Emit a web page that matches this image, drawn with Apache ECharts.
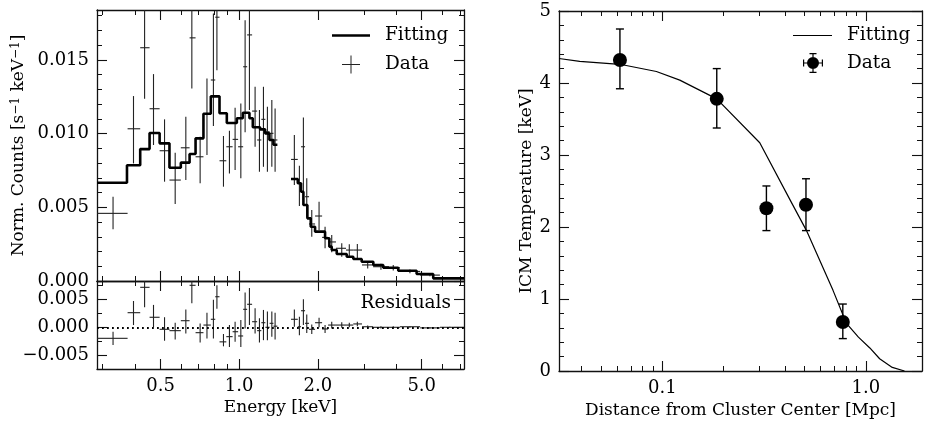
<!DOCTYPE html>
<html><head><meta charset="utf-8">
<script src="https://cdn.jsdelivr.net/npm/echarts@6/dist/echarts.min.js"></script>
<style>html,body{margin:0;padding:0;background:#fff}#c{width:925px;height:428px}</style>
</head><body><div id="c"></div>
<script>
// ---------- Left panel: X-ray spectrum ----------
const fitEdges = [0.2856,0.372,0.418,0.454,0.496,0.541,0.598,0.646,0.681,0.730,0.779,0.841,0.897,0.980,1.033,1.095,1.128,1.203,1.257,1.306,1.353,1.401,1.580,1.677,1.726,1.762,1.825,1.880,1.953,2.133,2.215,2.262,2.364,2.582,2.736,2.946,3.264,3.563,4.066,4.781,5.534,7.26];
const fitLevels = [0.00667,0.00785,0.00895,0.01004,0.00934,0.00769,0.00803,0.00862,0.00968,0.01135,0.01253,0.01138,0.01072,0.01104,0.01142,0.01104,0.01043,0.01029,0.01002,0.00957,0.00925,null,0.00692,0.00663,0.00606,0.00516,0.00425,0.00368,0.00335,0.0029,0.00233,0.0021,0.00183,0.00165,0.00149,0.00131,0.00109,0.0009,0.0007,0.00047,0.00018];

const dataE  = [0.329,0.394,0.4345,0.470,0.518,0.569,0.625,0.659,0.709,0.753,0.797,0.822,0.871,0.918,0.965,1.015,1.054,1.095,1.151,1.196,1.239,1.283,1.334,1.373,1.627,1.701,1.762,1.815,1.897,2.023,2.133,2.262,2.471,2.641,2.835,3.106,3.491,3.891,4.507,5.375,6.41];
const dataLo = [0.2856,0.374,0.418,0.454,0.496,0.541,0.598,0.646,0.681,0.730,0.779,0.810,0.841,0.893,0.944,0.991,1.036,1.073,1.121,1.172,1.216,1.260,1.308,1.353,1.580,1.677,1.726,1.788,1.852,1.953,2.078,2.191,2.348,2.566,2.736,2.954,3.258,3.746,4.125,4.93,5.87];
const dataHi = [0.374,0.418,0.454,0.496,0.541,0.598,0.646,0.681,0.730,0.779,0.810,0.841,0.893,0.944,0.991,1.036,1.073,1.121,1.172,1.216,1.260,1.308,1.353,1.401,1.677,1.726,1.788,1.852,1.953,2.078,2.191,2.348,2.566,2.736,2.954,3.258,3.746,4.125,4.93,5.87,7.26];
const counts   = [0.00459,0.01033,0.01583,0.01169,0.00884,0.00685,0.00904,0.0165,0.00843,0.0113,0.01364,0.0179,0.00816,0.00911,0.00961,0.00911,0.01454,0.0167,0.01153,0.00957,0.01097,0.01013,0.01002,0.00957,0.00825,0.00663,0.00911,0.00572,0.00387,0.00441,0.00296,0.00265,0.00222,0.0021,0.0021,0.00109,0.00097,0.0009,0.00065,0.0004,0.0002];
const countsLo = [0.00351,0.00798,0.01237,0.00923,0.00674,0.00522,0.00685,0.01307,0.00663,0.00855,0.01052,0.0143,0.0064,0.0073,0.00753,0.00697,0.0101,0.0116,0.00911,0.00741,0.00775,0.00741,0.00775,0.00741,0.00651,0.00509,0.00595,0.00436,0.00301,0.00346,0.00222,0.00195,0.00165,0.00165,0.00154,0.00085,0.00077,0.00072,0.00052,0.00032,0.00015];
const countsHi = [0.00572,0.01255,0.0195,0.01404,0.01097,0.0087,0.01115,0.0200,0.00979,0.01375,0.01816,0.0215,0.00984,0.0102,0.01176,0.01205,0.0177,0.0198,0.01318,0.0116,0.01318,0.01182,0.01228,0.01171,0.0099,0.00782,0.0111,0.00697,0.00482,0.00538,0.00368,0.00312,0.00256,0.0025,0.00251,0.00133,0.00117,0.00108,0.00078,0.00048,0.00025];
const resid   = [-0.00197,0.00261,0.00714,0.00179,-0.00036,-0.0006,0.00118,0.0075,-0.00096,0.0004,0.00143,0.00546,-0.0026,-0.00167,-0.00079,-0.00155,0.00321,0.00411,0.001,-0.0006,0.00082,0.0,0.00071,0.0002,0.00143,0.0001,0.00296,0.00071,-0.00036,0.00082,-0.0003,0.0004,0.0004,0.0004,0.0006,0.0001,0.0,0.0,0.0001,-0.0001,0.0];
const residLo = [-0.00316,0.0004,0.00357,0.0,-0.0024,-0.0022,-0.0011,0.0043,-0.0027,-0.002,-0.002,0.0033,-0.0034,-0.0035,-0.0026,-0.0035,-0.0002,0.0004,-0.0011,-0.0027,-0.0023,-0.0023,-0.0017,-0.0022,0.0001,-0.0014,0.0004,-0.001,-0.0012,0.0,-0.001,-0.0002,-0.0001,0.0,0.0002,-0.0001,-0.0002,-0.0002,-0.0001,-0.0002,-0.0001];
const residHi = [-0.00079,0.0047,0.0105,0.004,0.0018,0.0008,0.0032,0.0107,0.0007,0.0026,0.0049,0.0075,-0.0012,0.0004,0.001,0.0013,0.0062,0.007,0.0034,0.0016,0.0031,0.0028,0.0028,0.0026,0.0032,0.0019,0.005,0.0023,0.0005,0.0017,0.0004,0.001,0.0009,0.0008,0.001,0.0003,0.0002,0.0002,0.0002,0.0,0.0001];

// ---------- Right panel: temperature profile ----------
const radius = [0.0618,0.185,0.3246,0.508,0.771];
const temp   = [4.32,3.78,2.26,2.31,0.68];
const tempLo = [3.92,3.375,1.95,1.95,0.45];
const tempHi = [4.75,4.20,2.57,2.67,0.93];
const fitR = [0.031,0.0392,0.0618,0.0934,0.1217,0.185,0.301,0.4236,0.511,0.69,0.8035,0.92,1.047,1.17,1.35,1.55];
const fitT = [4.34,4.30,4.26,4.16,4.04,3.78,3.17,2.38,1.95,1.12,0.66,0.47,0.32,0.17,0.05,0.0];

// ---------- Ticks ----------
const eMajor = [0.5,1,2,5];
const eMinor = [0.3,0.4,0.6,0.7,0.8,0.9,3,4,6,7];
const cMajor = [0,0.005,0.010,0.015];
const cMinor = [0.001,0.002,0.003,0.004,0.006,0.007,0.008,0.009,0.011,0.012,0.013,0.014,0.016,0.017,0.018];
const rMajor = [-0.005,0,0.005];
const rMinor = [-0.0025,0.0025,0.0075];
const dMajor = [0.1,1];
const dMinor = [0.04,0.05,0.06,0.07,0.08,0.09,0.2,0.3,0.4,0.5,0.6,0.7,0.8,0.9];
const tMajor = [0,1,2,3,4,5];
const tMinor = [0.2,0.4,0.6,0.8,1.2,1.4,1.6,1.8,2.2,2.4,2.6,2.8,3.2,3.4,3.6,3.8,4.2,4.4,4.6,4.8];

const FONT = 'DejaVu Serif';
const AX = '#111';
const FS_NAME = 17, FS_TICK = 18, FS_LEG = 18.5;

function axes(dim, g, type, min, max, majors, minors, fmt, name, nameGap, labelMargin, rich) {
  const pos = dim === 'x' ? ['bottom','top'] : ['left','right'];
  const out = [];
  pos.forEach((p, k) => {
    const base = {gridIndex:g, type:type, min:min, max:max, position:p, splitLine:{show:false},
      minorTick:{show:false}, minorSplitLine:{show:false}, silent:true, axisPointer:{show:false}};
    if (type === 'log') base.logBase = 10;
    const nts = {color:'#000', fontFamily:FONT, fontSize:FS_NAME};
    if (rich) nts.rich = rich;
    out.push(Object.assign({}, base, {
      axisLine:{show:true, onZero:false, lineStyle:{color:AX, width:1.3}},
      axisTick:{show:true, inside:true, length:10, customValues:majors, lineStyle:{color:AX, width:1.1}},
      axisLabel: (k===0 && fmt) ? {show:true, customValues:majors, formatter:fmt, color:'#000', fontFamily:FONT, fontSize:FS_TICK, margin:labelMargin} : {show:false},
      name: (k===0 && name) ? name : '', nameLocation:'middle', nameGap:nameGap || 30,
      nameTextStyle:nts
    }));
    out.push(Object.assign({}, base, {
      axisLine:{show:false, onZero:false},
      axisTick:{show:true, inside:true, length:5, customValues:minors, lineStyle:{color:AX, width:1}},
      axisLabel:{show:false}
    }));
  });
  return out;
}

const fmt3 = v => v.toFixed(3);
const fmtR = v => (v < -1e-9 ? '\u2212' : '') + Math.abs(v).toFixed(3);
const fmt1 = v => v.toFixed(1);
const fmt0 = v => String(Math.round(v));
const supRich = {sup:{fontSize:12, fontFamily:FONT, color:'#000', verticalAlign:'top', lineHeight:12}};

const xAxis = [].concat(
  axes('x', 0, 'log', 0.2856, 7.26, eMajor, eMinor, null, '', 0, 8),
  axes('x', 1, 'log', 0.2856, 7.26, eMajor, eMinor, fmt1, 'Energy [keV]', 30, 8),
  axes('x', 2, 'log', 0.031, 1.89, dMajor, dMinor, fmt1, 'Distance from Cluster Center [Mpc]', 30, 8)
);
const yAxis = [].concat(
  axes('y', 0, 'value', 0, 0.01839, cMajor, cMinor, fmt3, 'Norm. Counts [s{sup|\u22121} keV{sup|\u22121}]', 70, 8, supRich),
  axes('y', 1, 'value', -0.00745, 0.00827, rMajor, rMinor, fmtR, '', 0, 8),
  axes('y', 2, 'value', 0, 5, tMajor, tMinor, fmt0, 'ICM Temperature [keV]', 24, 8)
);

function stepData(edges, levels) {
  const d = [];
  for (let i = 0; i < levels.length; i++) {
    if (levels[i] == null) { d.push([edges[i], '-']); continue; }
    d.push([edges[i], levels[i]]);
    if (i === levels.length - 1 || levels[i+1] == null) d.push([edges[i+1], levels[i]]);
  }
  return d;
}

const crossData = dataE.map((e,i) => [e, counts[i], dataLo[i], dataHi[i], countsLo[i], countsHi[i]]);
const residData = dataE.map((e,i) => [e, resid[i], dataLo[i], dataHi[i], residLo[i], residHi[i]]);

function crossItem(params, api) {
  const e = api.value(0), v = api.value(1);
  const l = api.coord([api.value(2), v]), r = api.coord([api.value(3), v]);
  const b = api.coord([e, api.value(4)]), t = api.coord([e, api.value(5)]);
  const st = {stroke:'#222', lineWidth:1.1};
  return {type:'group', children:[
    {type:'line', shape:{x1:l[0], y1:l[1], x2:r[0], y2:r[1]}, style:st},
    {type:'line', shape:{x1:b[0], y1:b[1], x2:t[0], y2:t[1]}, style:st}
  ]};
}
function errItem(params, api) {
  const x = api.value(0);
  const b = api.coord([x, api.value(1)]), t = api.coord([x, api.value(2)]);
  const w = 4, st = {stroke:'#000', lineWidth:1.4};
  return {type:'group', children:[
    {type:'line', shape:{x1:b[0], y1:b[1], x2:t[0], y2:t[1]}, style:st},
    {type:'line', shape:{x1:b[0]-w, y1:b[1], x2:b[0]+w, y2:b[1]}, style:st},
    {type:'line', shape:{x1:t[0]-w, y1:t[1], x2:t[0]+w, y2:t[1]}, style:st}
  ]};
}

const lineIconThick = 'path://M0,0h38v2.6h-38z';
const lineIconThin = 'path://M0,0h39v1.2h-39z';
const crossIcon = 'path://M0,8.5h18v1h-18z M8.5,0h1v18h-1z';
const dataIcon = 'path://M0,9.4h20v1.2h-20z M0,6.5h1.2v7h-1.2z M18.8,6.5h1.2v7h-1.2z M9.4,0h1.2v20h-1.2z M6.5,0h7v1.2h-7z M6.5,18.8h7v1.2h-7z M16,10a6,6 0 1,1 -12,0a6,6 0 1,1 12,0z';

function legend(name, left, top, icon, w, h, spacer) {
  return {data:[{name:name, icon:icon}], left:left, top:top, orient:'vertical',
    padding:0, itemWidth:w, itemHeight:h, selectedMode:false,
    formatter: n => '{sp| }{t|' + n.replace(' (T)', '') + '}',
    textStyle:{color:'#000', fontFamily:FONT, fontSize:FS_LEG, lineHeight:h,
      rich:{sp:{width:spacer, fontSize:FS_LEG, lineHeight:h}, t:{fontFamily:FONT, fontSize:FS_LEG, color:'#000', lineHeight:h}}}};
}

const option = {
  animation:false,
  textStyle:{fontFamily:FONT},
  grid:[
    {left:97, top:10, width:367, height:271},
    {left:97, top:281, width:367, height:88},
    {left:559, top:11, width:363, height:360}
  ],
  xAxis:xAxis,
  yAxis:yAxis,
  legend:[
    legend('Fitting', 332, 26, lineIconThick, 38, 18, 10),
    legend('Data', 342, 55, crossIcon, 18, 18, 20),
    legend('Fitting (T)', 793, 26, lineIconThin, 39, 18, 10),
    legend('Data (T)', 803, 53, dataIcon, 20, 20, 19)
  ],
  graphic:[
    {type:'text', x:451, y:303, silent:true,
     style:{text:'Residuals', align:'right', verticalAlign:'middle', textAlign:'right', textVerticalAlign:'middle',
            font:FS_LEG + 'px "DejaVu Serif"', fill:'#000'}}
  ],
  series:[
    {name:'Fitting', type:'line', xAxisIndex:0, yAxisIndex:0, step:'end', symbol:'none', showSymbol:false,
     connectNulls:false, data:stepData(fitEdges, fitLevels), clip:true,
     lineStyle:{color:'#000', width:2.6}, itemStyle:{color:'#000'}, z:3},
    {name:'Data', type:'custom', xAxisIndex:0, yAxisIndex:0, data:crossData, renderItem:crossItem,
     encode:{x:0, y:1}, clip:true, itemStyle:{color:'#222'}, z:2},
    {name:'Residual', type:'custom', xAxisIndex:4, yAxisIndex:4, data:residData, renderItem:crossItem,
     encode:{x:0, y:1}, clip:true, itemStyle:{color:'#222'}, z:2,
     markLine:{silent:true, symbol:'none', label:{show:false}, data:[{yAxis:0}],
       lineStyle:{color:'#000', width:1.8, type:[1.8,3.2]}}},
    {name:'Fitting (T)', type:'line', xAxisIndex:8, yAxisIndex:8, symbol:'none', showSymbol:false,
     data:fitR.map((r,i)=>[r, fitT[i]]), clip:true, lineStyle:{color:'#000', width:1.2}, itemStyle:{color:'#000'}, z:2},
    {name:'err', type:'custom', xAxisIndex:8, yAxisIndex:8, data:radius.map((r,i)=>[r, tempLo[i], tempHi[i]]),
     renderItem:errItem, encode:{x:0, y:[1,2]}, itemStyle:{color:'#000'}, z:3},
    {name:'Data (T)', type:'scatter', xAxisIndex:8, yAxisIndex:8, symbol:'circle', symbolSize:14,
     data:radius.map((r,i)=>[r, temp[i]]), itemStyle:{color:'#000', opacity:1}, z:4}
  ]
};

const chart = echarts.init(document.getElementById('c'), null, {renderer:'canvas'});
chart.setOption(option);
</script>
</body></html>
